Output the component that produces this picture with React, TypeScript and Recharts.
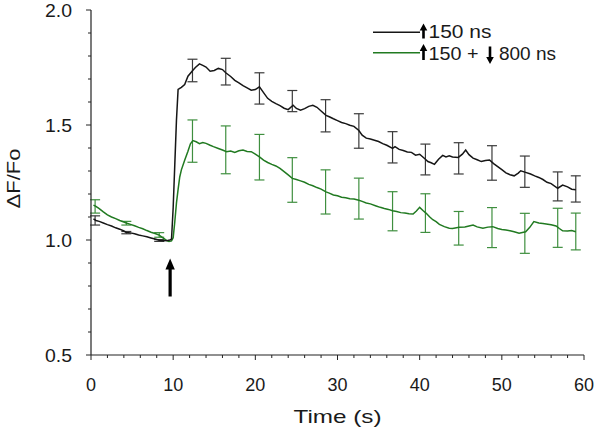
import React from 'react';
import { ComposedChart, Line, Scatter, ErrorBar, XAxis, YAxis, Legend, ReferenceDot } from 'recharts';

// ---- data ----
const blackTrace: [number, number][] = [
  [0.3,1.092],[0.6,1.085],[1.0,1.081],[1.5,1.074],[2.0,1.067],[2.5,1.061],[3.0,1.053],[3.5,1.047],[4.0,1.039],[4.3,1.033],
  [4.8,1.031],[5.3,1.027],[5.8,1.022],[6.3,1.018],[6.8,1.014],[7.3,1.009],[7.8,1.004],[8.3,0.999],[8.8,0.997],[9.3,0.998],
  [9.6,1.000],[9.8,1.004],[10.0,1.14],[10.2,1.33],[10.4,1.52],[10.6,1.655],[11.0,1.664],[11.4,1.676],[11.8,1.712],[12.3,1.734],
  [12.7,1.750],[13.2,1.766],[13.6,1.759],[14.0,1.752],[14.5,1.734],[15.0,1.737],[15.5,1.746],[16.0,1.741],[16.4,1.727],[17.0,1.711],
  [17.5,1.694],[18.0,1.683],[18.5,1.671],[19.0,1.661],[19.5,1.651],[20.0,1.654],[20.5,1.666],[21.0,1.641],[21.5,1.616],[22.0,1.603],
  [22.5,1.593],[23.0,1.584],[23.5,1.573],[24.0,1.567],[24.6,1.586],[25.0,1.572],[25.5,1.564],[26.0,1.571],[26.5,1.581],[27.0,1.586],
  [27.5,1.577],[28.0,1.561],[28.6,1.542],[29.0,1.536],[29.5,1.527],[30.0,1.519],[30.5,1.511],[31.0,1.506],[31.5,1.499],[32.0,1.494],
  [32.6,1.476],[33.0,1.456],[33.5,1.443],[34.0,1.439],[34.5,1.434],[35.0,1.428],[35.5,1.419],[36.0,1.412],[36.7,1.398],[37.0,1.406],
  [37.5,1.394],[38.0,1.389],[38.5,1.383],[39.0,1.381],[39.5,1.369],[40.0,1.373],[40.7,1.351],[41.0,1.341],[41.4,1.336],[41.8,1.329],
  [42.3,1.351],[42.8,1.368],[43.2,1.361],[43.6,1.366],[44.0,1.361],[44.7,1.359],[45.2,1.373],[45.6,1.391],[46.0,1.371],[46.5,1.356],
  [47.0,1.349],[47.5,1.341],[48.0,1.346],[48.5,1.348],[49.0,1.332],[49.5,1.319],[50.0,1.306],[50.5,1.292],[51.0,1.284],[51.5,1.279],
  [52.0,1.291],[52.3,1.301],[52.8,1.295],[53.5,1.287],[54.0,1.279],[54.5,1.272],[55.0,1.263],[55.5,1.251],[56.0,1.245],[56.8,1.225],
  [57.4,1.239],[58.0,1.231],[58.5,1.221],[59.0,1.218],
];

const greenTrace: [number, number][] = [
  [0.3,1.152],[0.6,1.146],[1.0,1.136],[1.5,1.122],[2.0,1.109],[2.5,1.100],[3.0,1.093],[3.5,1.085],[4.0,1.078],[4.3,1.074],
  [4.8,1.068],[5.3,1.062],[5.8,1.055],[6.3,1.049],[6.8,1.041],[7.3,1.034],[7.8,1.028],[8.3,1.021],[8.8,1.008],[9.2,0.998],
  [9.5,0.994],[9.8,0.996],[10.0,1.010],[10.2,1.080],[10.4,1.160],[10.6,1.220],[10.8,1.274],[11.0,1.305],[11.4,1.347],[11.8,1.386],
  [12.1,1.418],[12.4,1.432],[12.8,1.427],[13.2,1.419],[13.6,1.424],[14.0,1.420],[14.5,1.412],[14.9,1.406],[15.5,1.398],[16.0,1.391],
  [16.5,1.384],[17.0,1.387],[17.5,1.381],[18.0,1.388],[18.5,1.391],[19.0,1.385],[19.5,1.384],[20.0,1.373],[20.5,1.361],[21.0,1.347],
  [21.5,1.337],[22.0,1.329],[22.5,1.322],[23.0,1.311],[23.5,1.297],[24.0,1.283],[24.5,1.268],[25.0,1.263],[25.5,1.257],[26.0,1.251],
  [26.5,1.242],[27.0,1.236],[27.5,1.228],[28.0,1.221],[28.6,1.209],[29.0,1.204],[29.5,1.196],[30.0,1.192],[30.5,1.186],[31.0,1.184],
  [31.5,1.179],[32.0,1.178],[32.6,1.173],[33.0,1.168],[33.5,1.161],[34.0,1.157],[34.7,1.148],[35.2,1.142],[35.7,1.137],[36.2,1.133],
  [36.7,1.127],[37.2,1.124],[37.7,1.119],[38.2,1.117],[38.7,1.114],[39.2,1.113],[39.6,1.126],[40.0,1.142],[40.4,1.128],[40.8,1.116],
  [41.2,1.101],[41.6,1.088],[42.0,1.080],[42.4,1.068],[43.0,1.058],[43.6,1.051],[44.0,1.050],[44.8,1.055],[45.5,1.057],[46.0,1.061],
  [46.5,1.065],[47.0,1.057],[47.7,1.051],[48.3,1.056],[48.9,1.058],[49.5,1.050],[50.0,1.046],[50.5,1.043],[51.0,1.040],[51.5,1.036],
  [52.1,1.029],[52.9,1.036],[53.4,1.055],[53.9,1.080],[54.5,1.074],[55.0,1.072],[55.4,1.070],[56.0,1.066],[56.6,1.061],[57.0,1.050],
  [57.4,1.040],[58.0,1.039],[58.5,1.041],[59.0,1.036],
];

const errTimes = [0.5, 4.3, 8.3, 12.35, 16.4, 20.5, 24.5, 28.55, 32.6, 36.7, 40.7, 44.75, 48.8, 52.8, 56.8, 59.0];
const blackMean = [1.085, 1.032, 0.998, 1.737, 1.732, 1.659, 1.604, 1.540, 1.474, 1.403, 1.350, 1.355, 1.335, 1.297, 1.233, 1.222];
const blackSem = [0.020, 0.005, 0.004, 0.049, 0.058, 0.068, 0.046, 0.070, 0.075, 0.068, 0.067, 0.068, 0.075, 0.068, 0.063, 0.057];
const greenMean = [1.146, 1.073, 1.022, 1.430, 1.392, 1.360, 1.261, 1.209, 1.180, 1.125, 1.117, 1.051, 1.054, 1.029, 1.053, 1.037];
const greenSem = [0.029, 0.008, 0.010, 0.092, 0.104, 0.099, 0.097, 0.096, 0.089, 0.085, 0.084, 0.073, 0.087, 0.087, 0.085, 0.080];

const xTicks = [0,2,4,6,8,10,12,14,16,18,20,22,24,26,28,30,32,34,36,38,40,42,44,46,48,50,52,54,56,58,60];
const yTicks = [0.5,0.6,0.7,0.8,0.9,1.0,1.1,1.2,1.3,1.4,1.5,1.6,1.7,1.8,1.9,2.0];
const xLabels = [0, 10, 20, 30, 40, 50, 60];
const yLabels = [0.5, 1.0, 1.5, 2.0];
const stimulusTime = 9.63;
const stimulusTip = 0.92;

// ---- derived tables ----
const blackData = blackTrace.map(([t, v]) => ({ t, v }));
const greenData = greenTrace.map(([t, v]) => ({ t, v }));
const blackErr = errTimes.map((t, i) => ({ t, m: blackMean[i], e: blackSem[i] }));
const greenErr = errTimes.map((t, i) => ({ t, m: greenMean[i], e: greenSem[i] }));

const FONT = '"Liberation Sans", Arial, sans-serif';
const BLACK = '#161616';
const BLACK_BAR = '#3a3a3a';
const GREEN = '#217a21';
const GREEN_BAR = '#3f8f3f';
const TEXT = '#1a1a1a';

const isLabelY = (v: number) => yLabels.some((l) => Math.abs(l - v) < 1e-6);

const YTick = (props: any) => {
  const { x, y, payload } = props;
  const major = isLabelY(payload.value);
  return (
    <g>
      <line x1={x - (major ? 5 : 3)} x2={x} y1={y} y2={y} stroke="#222" strokeWidth={1} />
      {major && (
        <text x={x - 19} y={y} dy={6.5} textAnchor="end" fontFamily={FONT} fontSize={18} fill={TEXT}
          textLength={27} lengthAdjust="spacingAndGlyphs">
          {payload.value.toFixed(1)}
        </text>
      )}
    </g>
  );
};

const XTick = (props: any) => {
  const { x, y, payload } = props;
  const major = xLabels.includes(payload.value);
  return (
    <g>
      <line x1={x} x2={x} y1={y} y2={y + (major ? 5 : 3)} stroke="#222" strokeWidth={1} />
      {major && (
        <text x={x} y={y + 36} textAnchor="middle" fontFamily={FONT} fontSize={18} fill={TEXT}>
          {payload.value}
        </text>
      )}
    </g>
  );
};

const XLabel = (props: any) => {
  const vb = props.viewBox || { x: 91, y: 355, width: 493, height: 40 };
  return (
    <text x={vb.x + vb.width / 2} y={vb.y + 68} textAnchor="middle" fontFamily={FONT} fontSize={19}
      fill={TEXT} textLength={88} lengthAdjust="spacingAndGlyphs">
      Time (s)
    </text>
  );
};

const YLabel = (props: any) => {
  const vb = props.viewBox || { x: 0, y: 10, width: 91, height: 345 };
  const cx = vb.x + 20;
  const cy = vb.y + vb.height / 2 - 4;
  return (
    <text x={cx} y={cy} transform={`rotate(-90 ${cx} ${cy})`} textAnchor="middle" fontFamily={FONT}
      fontSize={19} fill={TEXT} textLength={60} lengthAdjust="spacingAndGlyphs">
      ΔF/Fo
    </text>
  );
};

const upArrow = (x: number, top: number, bottom: number, hw = 3.8, hh = 7, sw = 1.3) =>
  `M${x} ${top} L${x + hw} ${top + hh} L${x + sw} ${top + hh} L${x + sw} ${bottom} L${x - sw} ${bottom} L${x - sw} ${top + hh} L${x - hw} ${top + hh} Z`;
const downArrow = (x: number, top: number, bottom: number, hw = 3.8, hh = 7, sw = 1.3) =>
  `M${x} ${bottom} L${x + hw} ${bottom - hh} L${x + sw} ${bottom - hh} L${x + sw} ${top} L${x - sw} ${top} L${x - sw} ${bottom - hh} L${x - hw} ${bottom - hh} Z`;

const LegendContent = () => (
  <svg width={200} height={50} style={{ display: 'block' }}>
    <line x1={3} x2={50} y1={12.3} y2={12.3} stroke={BLACK} strokeWidth={1.6} />
    <path d={upArrow(53.5, 3.5, 18.5)} fill="#000" />
    <text x={58.5} y={18.3} fontFamily={FONT} fontSize={18.5} fill={TEXT} textLength={63} lengthAdjust="spacingAndGlyphs">150 ns</text>
    <line x1={3} x2={50} y1={32.7} y2={32.7} stroke={GREEN} strokeWidth={1.6} />
    <path d={upArrow(53.5, 24, 40)} fill="#000" />
    <text x={58.5} y={40} fontFamily={FONT} fontSize={18.5} fill={TEXT} textLength={50} lengthAdjust="spacingAndGlyphs">150 +</text>
    <path d={downArrow(120, 26.5, 44)} fill="#000" />
    <text x={129} y={40} fontFamily={FONT} fontSize={18.5} fill={TEXT} textLength={57} lengthAdjust="spacingAndGlyphs">800 ns</text>
  </svg>
);

const StimArrow = (props: any) => {
  const { cx, cy } = props;
  if (cx == null || cy == null) return <g />;
  return <path d={upArrow(cx, cy, cy + 38, 4.7, 11, 1.6)} fill="#000" />;
};

const NoDot = () => <g />;

export default function App() {
  return (
    <div style={{ position: 'absolute', left: 0, top: 0, width: 596, height: 436, background: '#fff' }}>
      <ComposedChart width={596} height={436} margin={{ top: 10, right: 12, bottom: 41, left: 0 }}>
        <XAxis
          type="number"
          dataKey="t"
          domain={[0, 60]}
          ticks={xTicks}
          interval={0}
          tick={<XTick />}
          tickLine={false}
          tickSize={0}
          tickMargin={0}
          height={40}
          axisLine={{ stroke: '#222', strokeWidth: 1.2 }}
          label={XLabel}
          allowDataOverflow
        />
        <YAxis
          type="number"
          domain={[0.5, 2.0]}
          ticks={yTicks}
          interval={0}
          tick={<YTick />}
          tickLine={false}
          tickSize={0}
          tickMargin={0}
          width={91}
          axisLine={{ stroke: '#222', strokeWidth: 1.2 }}
          label={YLabel}
          allowDataOverflow
        />
        <Legend
          layout="horizontal"
          verticalAlign="middle"
          align="center"
          content={<LegendContent />}
          wrapperStyle={{ position: 'absolute', left: 370, top: 20, width: 200, height: 50 }}
        />
        <Scatter name="b-err" data={blackErr} dataKey="m" shape={NoDot} isAnimationActive={false} legendType="none">
          <ErrorBar dataKey="e" direction="y" width={5} stroke={BLACK_BAR} strokeWidth={1.2} isAnimationActive={false} />
        </Scatter>
        <Scatter name="g-err" data={greenErr} dataKey="m" shape={NoDot} isAnimationActive={false} legendType="none">
          <ErrorBar dataKey="e" direction="y" width={5} stroke={GREEN_BAR} strokeWidth={1.2} isAnimationActive={false} />
        </Scatter>
        <Line data={greenData} dataKey="v" type="linear" stroke={GREEN} strokeWidth={1.5} dot={false}
          isAnimationActive={false} name="green" />
        <Line data={blackData} dataKey="v" type="linear" stroke={BLACK} strokeWidth={1.5} dot={false}
          isAnimationActive={false} name="black" />
        <ReferenceDot x={stimulusTime} y={stimulusTip} r={0} shape={StimArrow} />
      </ComposedChart>
    </div>
  );
}
